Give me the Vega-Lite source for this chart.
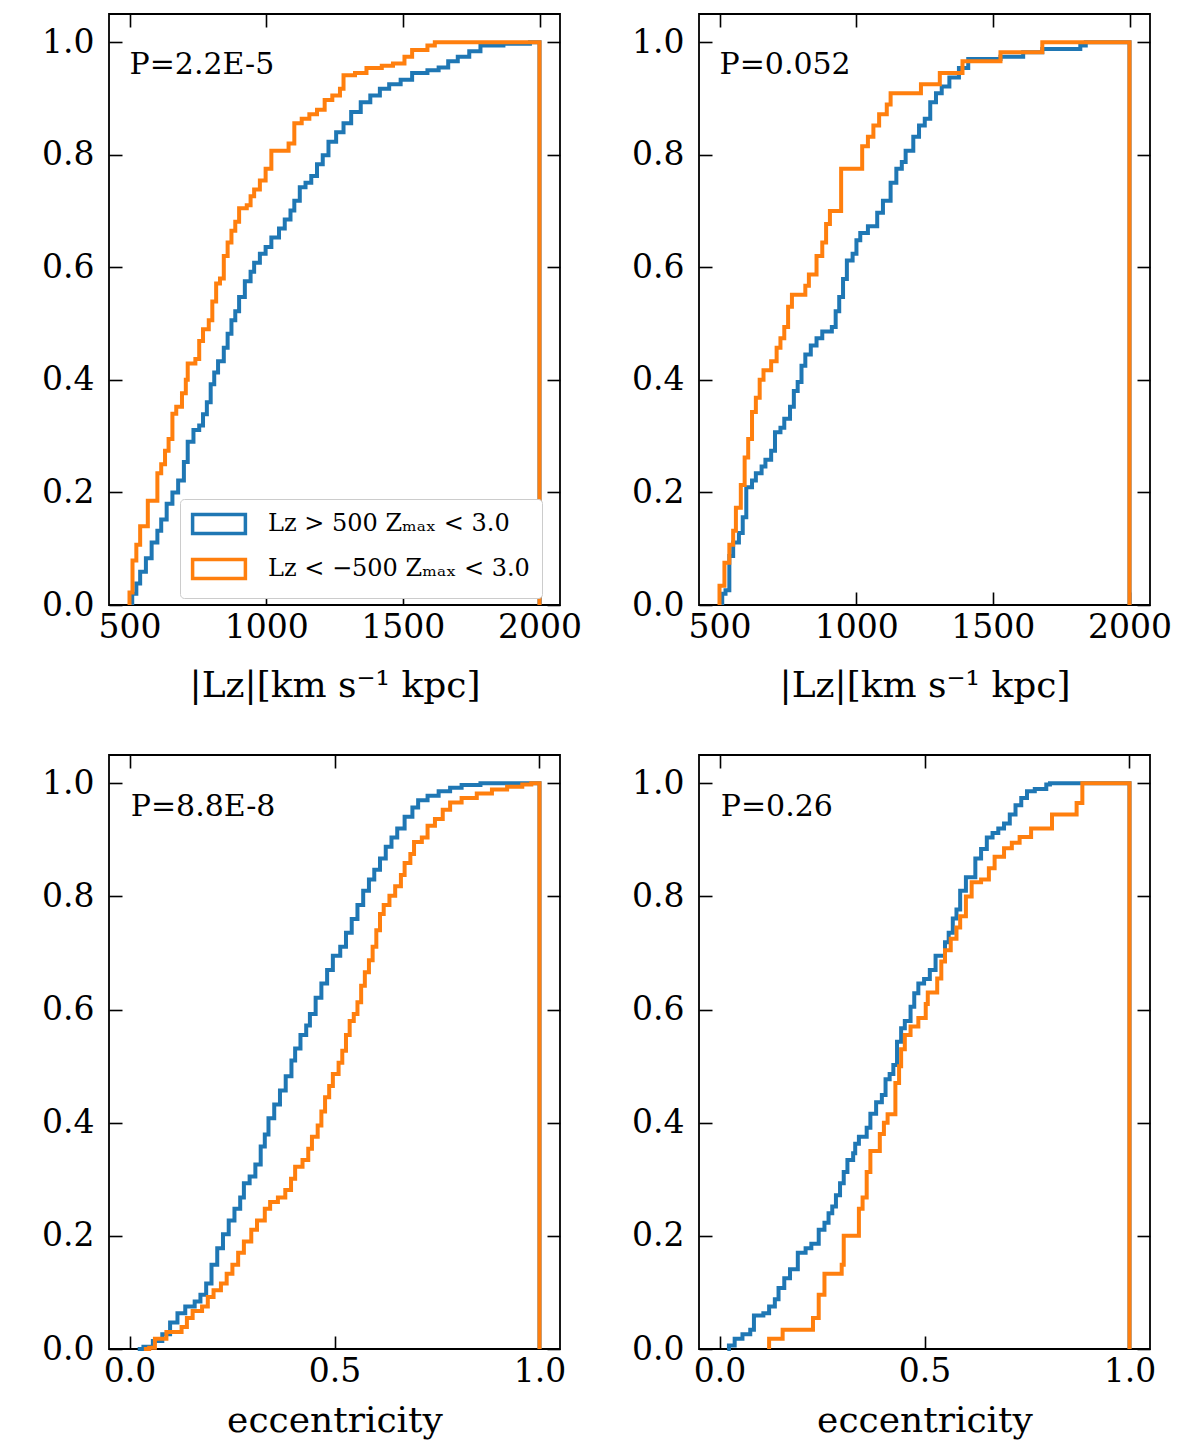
{
  "$schema": "https://vega.github.io/schema/vega-lite/v6.json",
  "padding": {"left": 40, "top": 12, "right": 20, "bottom": 10},
  "background": "white",
  "config": {
    "font": "DejaVu Serif",
    "view": {"stroke": "black", "strokeWidth": 1.8},
    "axis": {
      "domain": false, "grid": false, "ticks": true, "tickColor": "black", "tickWidth": 1.6, "tickSize": -13,
      "labelFont": "DejaVu Serif", "labelFontSize": 33, "labelColor": "black", "labelOverlap": false, "labelFlush": false,
      "titleFont": "DejaVu Serif", "titleFontSize": 36, "titleFontWeight": "normal", "titleColor": "black"
    },
    "axisX": {"labelPadding": 19.5},
    "axisY": {"labelPadding": 28}
  },
  "datasets": {
    "tl": [
      {"g": "pro", "x": 510, "y": 0}, {"g": "pro", "x": 510, "y": 0.02}, {"g": "pro", "x": 525, "y": 0.038}, {"g": "pro", "x": 539, "y": 0.059}, {"g": "pro", "x": 560, "y": 0.083}, {"g": "pro", "x": 581, "y": 0.111}, {"g": "pro", "x": 602, "y": 0.132}, {"g": "pro", "x": 616, "y": 0.152}, {"g": "pro", "x": 636, "y": 0.18}, {"g": "pro", "x": 657, "y": 0.2}, {"g": "pro", "x": 678, "y": 0.221}, {"g": "pro", "x": 699, "y": 0.254}, {"g": "pro", "x": 713, "y": 0.29}, {"g": "pro", "x": 734, "y": 0.311}, {"g": "pro", "x": 755, "y": 0.319}, {"g": "pro", "x": 769, "y": 0.339}, {"g": "pro", "x": 783, "y": 0.36}, {"g": "pro", "x": 797, "y": 0.392}, {"g": "pro", "x": 810, "y": 0.413}, {"g": "pro", "x": 824, "y": 0.433}, {"g": "pro", "x": 845, "y": 0.457}, {"g": "pro", "x": 859, "y": 0.482}, {"g": "pro", "x": 873, "y": 0.506}, {"g": "pro", "x": 887, "y": 0.522}, {"g": "pro", "x": 901, "y": 0.547}, {"g": "pro", "x": 922, "y": 0.575}, {"g": "pro", "x": 943, "y": 0.592}, {"g": "pro", "x": 956, "y": 0.608}, {"g": "pro", "x": 977, "y": 0.624}, {"g": "pro", "x": 998, "y": 0.636}, {"g": "pro", "x": 1019, "y": 0.653}, {"g": "pro", "x": 1047, "y": 0.669}, {"g": "pro", "x": 1068, "y": 0.685}, {"g": "pro", "x": 1089, "y": 0.701}, {"g": "pro", "x": 1103, "y": 0.718}, {"g": "pro", "x": 1123, "y": 0.742}, {"g": "pro", "x": 1144, "y": 0.75}, {"g": "pro", "x": 1165, "y": 0.762}, {"g": "pro", "x": 1186, "y": 0.783}, {"g": "pro", "x": 1207, "y": 0.799}, {"g": "pro", "x": 1228, "y": 0.823}, {"g": "pro", "x": 1256, "y": 0.84}, {"g": "pro", "x": 1283, "y": 0.856}, {"g": "pro", "x": 1311, "y": 0.876}, {"g": "pro", "x": 1346, "y": 0.893}, {"g": "pro", "x": 1381, "y": 0.905}, {"g": "pro", "x": 1416, "y": 0.917}, {"g": "pro", "x": 1450, "y": 0.925}, {"g": "pro", "x": 1492, "y": 0.933}, {"g": "pro", "x": 1534, "y": 0.945}, {"g": "pro", "x": 1590, "y": 0.95}, {"g": "pro", "x": 1631, "y": 0.955}, {"g": "pro", "x": 1666, "y": 0.966}, {"g": "pro", "x": 1701, "y": 0.974}, {"g": "pro", "x": 1743, "y": 0.984}, {"g": "pro", "x": 1784, "y": 0.994}, {"g": "pro", "x": 1868, "y": 0.997}, {"g": "pro", "x": 1965, "y": 1.0}, {"g": "pro", "x": 2000, "y": 1.0}, {"g": "pro", "x": 2000, "y": 0},
      {"g": "retro", "x": 500, "y": 0}, {"g": "retro", "x": 500, "y": 0.022}, {"g": "retro", "x": 511, "y": 0.079}, {"g": "retro", "x": 525, "y": 0.107}, {"g": "retro", "x": 539, "y": 0.14}, {"g": "retro", "x": 567, "y": 0.185}, {"g": "retro", "x": 602, "y": 0.234}, {"g": "retro", "x": 616, "y": 0.25}, {"g": "retro", "x": 630, "y": 0.274}, {"g": "retro", "x": 643, "y": 0.295}, {"g": "retro", "x": 657, "y": 0.34}, {"g": "retro", "x": 671, "y": 0.352}, {"g": "retro", "x": 692, "y": 0.376}, {"g": "retro", "x": 706, "y": 0.4}, {"g": "retro", "x": 713, "y": 0.429}, {"g": "retro", "x": 741, "y": 0.437}, {"g": "retro", "x": 755, "y": 0.469}, {"g": "retro", "x": 769, "y": 0.49}, {"g": "retro", "x": 790, "y": 0.506}, {"g": "retro", "x": 803, "y": 0.539}, {"g": "retro", "x": 817, "y": 0.571}, {"g": "retro", "x": 831, "y": 0.58}, {"g": "retro", "x": 845, "y": 0.62}, {"g": "retro", "x": 859, "y": 0.644}, {"g": "retro", "x": 873, "y": 0.665}, {"g": "retro", "x": 887, "y": 0.681}, {"g": "retro", "x": 901, "y": 0.705}, {"g": "retro", "x": 929, "y": 0.71}, {"g": "retro", "x": 943, "y": 0.726}, {"g": "retro", "x": 956, "y": 0.738}, {"g": "retro", "x": 977, "y": 0.754}, {"g": "retro", "x": 998, "y": 0.775}, {"g": "retro", "x": 1019, "y": 0.807}, {"g": "retro", "x": 1082, "y": 0.82}, {"g": "retro", "x": 1103, "y": 0.856}, {"g": "retro", "x": 1130, "y": 0.864}, {"g": "retro", "x": 1158, "y": 0.872}, {"g": "retro", "x": 1186, "y": 0.88}, {"g": "retro", "x": 1214, "y": 0.897}, {"g": "retro", "x": 1242, "y": 0.905}, {"g": "retro", "x": 1270, "y": 0.917}, {"g": "retro", "x": 1283, "y": 0.941}, {"g": "retro", "x": 1325, "y": 0.945}, {"g": "retro", "x": 1367, "y": 0.954}, {"g": "retro", "x": 1423, "y": 0.958}, {"g": "retro", "x": 1464, "y": 0.962}, {"g": "retro", "x": 1506, "y": 0.974}, {"g": "retro", "x": 1534, "y": 0.986}, {"g": "retro", "x": 1590, "y": 0.994}, {"g": "retro", "x": 1617, "y": 1.0}, {"g": "retro", "x": 2000, "y": 1.0}, {"g": "retro", "x": 2000, "y": 0}
    ],
    "tr": [
      {"g": "pro", "x": 510, "y": 0}, {"g": "pro", "x": 510, "y": 0.02}, {"g": "pro", "x": 522, "y": 0.026}, {"g": "pro", "x": 536, "y": 0.087}, {"g": "pro", "x": 550, "y": 0.111}, {"g": "pro", "x": 571, "y": 0.128}, {"g": "pro", "x": 585, "y": 0.156}, {"g": "pro", "x": 598, "y": 0.209}, {"g": "pro", "x": 619, "y": 0.221}, {"g": "pro", "x": 633, "y": 0.234}, {"g": "pro", "x": 654, "y": 0.246}, {"g": "pro", "x": 668, "y": 0.258}, {"g": "pro", "x": 689, "y": 0.274}, {"g": "pro", "x": 703, "y": 0.307}, {"g": "pro", "x": 723, "y": 0.315}, {"g": "pro", "x": 737, "y": 0.331}, {"g": "pro", "x": 758, "y": 0.352}, {"g": "pro", "x": 772, "y": 0.38}, {"g": "pro", "x": 786, "y": 0.396}, {"g": "pro", "x": 800, "y": 0.425}, {"g": "pro", "x": 814, "y": 0.445}, {"g": "pro", "x": 834, "y": 0.461}, {"g": "pro", "x": 855, "y": 0.474}, {"g": "pro", "x": 876, "y": 0.486}, {"g": "pro", "x": 911, "y": 0.494}, {"g": "pro", "x": 925, "y": 0.522}, {"g": "pro", "x": 938, "y": 0.547}, {"g": "pro", "x": 952, "y": 0.579}, {"g": "pro", "x": 966, "y": 0.612}, {"g": "pro", "x": 987, "y": 0.624}, {"g": "pro", "x": 1001, "y": 0.648}, {"g": "pro", "x": 1015, "y": 0.661}, {"g": "pro", "x": 1043, "y": 0.673}, {"g": "pro", "x": 1077, "y": 0.697}, {"g": "pro", "x": 1098, "y": 0.718}, {"g": "pro", "x": 1126, "y": 0.75}, {"g": "pro", "x": 1147, "y": 0.775}, {"g": "pro", "x": 1167, "y": 0.787}, {"g": "pro", "x": 1181, "y": 0.807}, {"g": "pro", "x": 1209, "y": 0.832}, {"g": "pro", "x": 1230, "y": 0.852}, {"g": "pro", "x": 1251, "y": 0.864}, {"g": "pro", "x": 1271, "y": 0.893}, {"g": "pro", "x": 1292, "y": 0.909}, {"g": "pro", "x": 1313, "y": 0.921}, {"g": "pro", "x": 1341, "y": 0.937}, {"g": "pro", "x": 1376, "y": 0.954}, {"g": "pro", "x": 1410, "y": 0.97}, {"g": "pro", "x": 1528, "y": 0.974}, {"g": "pro", "x": 1611, "y": 0.982}, {"g": "pro", "x": 1681, "y": 0.988}, {"g": "pro", "x": 1820, "y": 0.994}, {"g": "pro", "x": 1840, "y": 1.0}, {"g": "pro", "x": 2000, "y": 1.0}, {"g": "pro", "x": 2000, "y": 0},
      {"g": "retro", "x": 500, "y": 0}, {"g": "retro", "x": 500, "y": 0.034}, {"g": "retro", "x": 518, "y": 0.075}, {"g": "retro", "x": 536, "y": 0.107}, {"g": "retro", "x": 550, "y": 0.132}, {"g": "retro", "x": 560, "y": 0.173}, {"g": "retro", "x": 578, "y": 0.213}, {"g": "retro", "x": 592, "y": 0.262}, {"g": "retro", "x": 605, "y": 0.295}, {"g": "retro", "x": 619, "y": 0.343}, {"g": "retro", "x": 633, "y": 0.368}, {"g": "retro", "x": 647, "y": 0.4}, {"g": "retro", "x": 661, "y": 0.417}, {"g": "retro", "x": 689, "y": 0.433}, {"g": "retro", "x": 709, "y": 0.457}, {"g": "retro", "x": 723, "y": 0.474}, {"g": "retro", "x": 737, "y": 0.494}, {"g": "retro", "x": 751, "y": 0.53}, {"g": "retro", "x": 765, "y": 0.551}, {"g": "retro", "x": 814, "y": 0.567}, {"g": "retro", "x": 827, "y": 0.587}, {"g": "retro", "x": 855, "y": 0.62}, {"g": "retro", "x": 876, "y": 0.644}, {"g": "retro", "x": 890, "y": 0.677}, {"g": "retro", "x": 904, "y": 0.7}, {"g": "retro", "x": 945, "y": 0.775}, {"g": "retro", "x": 1022, "y": 0.815}, {"g": "retro", "x": 1043, "y": 0.832}, {"g": "retro", "x": 1063, "y": 0.852}, {"g": "retro", "x": 1084, "y": 0.872}, {"g": "retro", "x": 1112, "y": 0.889}, {"g": "retro", "x": 1126, "y": 0.909}, {"g": "retro", "x": 1237, "y": 0.925}, {"g": "retro", "x": 1306, "y": 0.945}, {"g": "retro", "x": 1389, "y": 0.966}, {"g": "retro", "x": 1528, "y": 0.982}, {"g": "retro", "x": 1681, "y": 1.0}, {"g": "retro", "x": 2000, "y": 1.0}, {"g": "retro", "x": 2000, "y": 0}
    ],
    "bl": [
      {"g": "pro", "x": 0.02, "y": 0}, {"g": "pro", "x": 0.034, "y": 0.004}, {"g": "pro", "x": 0.057, "y": 0.014}, {"g": "pro", "x": 0.08, "y": 0.026}, {"g": "pro", "x": 0.099, "y": 0.047}, {"g": "pro", "x": 0.117, "y": 0.063}, {"g": "pro", "x": 0.136, "y": 0.075}, {"g": "pro", "x": 0.159, "y": 0.084}, {"g": "pro", "x": 0.173, "y": 0.096}, {"g": "pro", "x": 0.187, "y": 0.116}, {"g": "pro", "x": 0.2, "y": 0.149}, {"g": "pro", "x": 0.214, "y": 0.178}, {"g": "pro", "x": 0.228, "y": 0.203}, {"g": "pro", "x": 0.242, "y": 0.227}, {"g": "pro", "x": 0.256, "y": 0.248}, {"g": "pro", "x": 0.27, "y": 0.268}, {"g": "pro", "x": 0.279, "y": 0.293}, {"g": "pro", "x": 0.293, "y": 0.305}, {"g": "pro", "x": 0.307, "y": 0.326}, {"g": "pro", "x": 0.32, "y": 0.358}, {"g": "pro", "x": 0.33, "y": 0.379}, {"g": "pro", "x": 0.339, "y": 0.408}, {"g": "pro", "x": 0.353, "y": 0.432}, {"g": "pro", "x": 0.367, "y": 0.457}, {"g": "pro", "x": 0.381, "y": 0.482}, {"g": "pro", "x": 0.395, "y": 0.51}, {"g": "pro", "x": 0.404, "y": 0.531}, {"g": "pro", "x": 0.417, "y": 0.555}, {"g": "pro", "x": 0.431, "y": 0.572}, {"g": "pro", "x": 0.44, "y": 0.592}, {"g": "pro", "x": 0.454, "y": 0.621}, {"g": "pro", "x": 0.468, "y": 0.646}, {"g": "pro", "x": 0.482, "y": 0.67}, {"g": "pro", "x": 0.496, "y": 0.695}, {"g": "pro", "x": 0.514, "y": 0.711}, {"g": "pro", "x": 0.528, "y": 0.736}, {"g": "pro", "x": 0.542, "y": 0.76}, {"g": "pro", "x": 0.556, "y": 0.785}, {"g": "pro", "x": 0.57, "y": 0.81}, {"g": "pro", "x": 0.584, "y": 0.83}, {"g": "pro", "x": 0.597, "y": 0.847}, {"g": "pro", "x": 0.611, "y": 0.867}, {"g": "pro", "x": 0.625, "y": 0.888}, {"g": "pro", "x": 0.639, "y": 0.904}, {"g": "pro", "x": 0.653, "y": 0.92}, {"g": "pro", "x": 0.671, "y": 0.941}, {"g": "pro", "x": 0.69, "y": 0.957}, {"g": "pro", "x": 0.704, "y": 0.97}, {"g": "pro", "x": 0.727, "y": 0.978}, {"g": "pro", "x": 0.754, "y": 0.986}, {"g": "pro", "x": 0.782, "y": 0.992}, {"g": "pro", "x": 0.81, "y": 0.997}, {"g": "pro", "x": 0.856, "y": 1.0}, {"g": "pro", "x": 1.0, "y": 1.0}, {"g": "pro", "x": 1.0, "y": 0},
      {"g": "retro", "x": 0.035, "y": 0}, {"g": "retro", "x": 0.048, "y": 0.002}, {"g": "retro", "x": 0.062, "y": 0.018}, {"g": "retro", "x": 0.09, "y": 0.03}, {"g": "retro", "x": 0.127, "y": 0.039}, {"g": "retro", "x": 0.14, "y": 0.055}, {"g": "retro", "x": 0.154, "y": 0.067}, {"g": "retro", "x": 0.177, "y": 0.075}, {"g": "retro", "x": 0.191, "y": 0.092}, {"g": "retro", "x": 0.205, "y": 0.104}, {"g": "retro", "x": 0.223, "y": 0.116}, {"g": "retro", "x": 0.237, "y": 0.133}, {"g": "retro", "x": 0.251, "y": 0.149}, {"g": "retro", "x": 0.265, "y": 0.17}, {"g": "retro", "x": 0.279, "y": 0.19}, {"g": "retro", "x": 0.297, "y": 0.211}, {"g": "retro", "x": 0.311, "y": 0.227}, {"g": "retro", "x": 0.33, "y": 0.248}, {"g": "retro", "x": 0.343, "y": 0.26}, {"g": "retro", "x": 0.362, "y": 0.268}, {"g": "retro", "x": 0.38, "y": 0.281}, {"g": "retro", "x": 0.394, "y": 0.301}, {"g": "retro", "x": 0.404, "y": 0.322}, {"g": "retro", "x": 0.422, "y": 0.334}, {"g": "retro", "x": 0.436, "y": 0.354}, {"g": "retro", "x": 0.445, "y": 0.375}, {"g": "retro", "x": 0.459, "y": 0.395}, {"g": "retro", "x": 0.468, "y": 0.42}, {"g": "retro", "x": 0.477, "y": 0.445}, {"g": "retro", "x": 0.487, "y": 0.465}, {"g": "retro", "x": 0.496, "y": 0.486}, {"g": "retro", "x": 0.51, "y": 0.506}, {"g": "retro", "x": 0.519, "y": 0.527}, {"g": "retro", "x": 0.528, "y": 0.555}, {"g": "retro", "x": 0.537, "y": 0.58}, {"g": "retro", "x": 0.547, "y": 0.592}, {"g": "retro", "x": 0.556, "y": 0.613}, {"g": "retro", "x": 0.565, "y": 0.642}, {"g": "retro", "x": 0.574, "y": 0.666}, {"g": "retro", "x": 0.584, "y": 0.687}, {"g": "retro", "x": 0.593, "y": 0.711}, {"g": "retro", "x": 0.602, "y": 0.74}, {"g": "retro", "x": 0.611, "y": 0.769}, {"g": "retro", "x": 0.62, "y": 0.785}, {"g": "retro", "x": 0.634, "y": 0.801}, {"g": "retro", "x": 0.648, "y": 0.818}, {"g": "retro", "x": 0.662, "y": 0.838}, {"g": "retro", "x": 0.671, "y": 0.859}, {"g": "retro", "x": 0.685, "y": 0.875}, {"g": "retro", "x": 0.694, "y": 0.896}, {"g": "retro", "x": 0.713, "y": 0.904}, {"g": "retro", "x": 0.727, "y": 0.925}, {"g": "retro", "x": 0.745, "y": 0.937}, {"g": "retro", "x": 0.764, "y": 0.953}, {"g": "retro", "x": 0.782, "y": 0.966}, {"g": "retro", "x": 0.81, "y": 0.974}, {"g": "retro", "x": 0.847, "y": 0.982}, {"g": "retro", "x": 0.884, "y": 0.989}, {"g": "retro", "x": 0.921, "y": 0.994}, {"g": "retro", "x": 0.958, "y": 0.998}, {"g": "retro", "x": 0.98, "y": 1.0}, {"g": "retro", "x": 1.0, "y": 1.0}, {"g": "retro", "x": 1.0, "y": 0}
    ],
    "br": [
      {"g": "pro", "x": 0.019, "y": 0}, {"g": "pro", "x": 0.023, "y": 0.006}, {"g": "pro", "x": 0.037, "y": 0.018}, {"g": "pro", "x": 0.056, "y": 0.026}, {"g": "pro", "x": 0.075, "y": 0.034}, {"g": "pro", "x": 0.084, "y": 0.059}, {"g": "pro", "x": 0.107, "y": 0.063}, {"g": "pro", "x": 0.121, "y": 0.075}, {"g": "pro", "x": 0.135, "y": 0.088}, {"g": "pro", "x": 0.144, "y": 0.108}, {"g": "pro", "x": 0.158, "y": 0.125}, {"g": "pro", "x": 0.172, "y": 0.141}, {"g": "pro", "x": 0.191, "y": 0.17}, {"g": "pro", "x": 0.21, "y": 0.178}, {"g": "pro", "x": 0.224, "y": 0.186}, {"g": "pro", "x": 0.242, "y": 0.211}, {"g": "pro", "x": 0.256, "y": 0.223}, {"g": "pro", "x": 0.266, "y": 0.24}, {"g": "pro", "x": 0.275, "y": 0.252}, {"g": "pro", "x": 0.284, "y": 0.272}, {"g": "pro", "x": 0.294, "y": 0.293}, {"g": "pro", "x": 0.303, "y": 0.313}, {"g": "pro", "x": 0.312, "y": 0.334}, {"g": "pro", "x": 0.326, "y": 0.346}, {"g": "pro", "x": 0.331, "y": 0.363}, {"g": "pro", "x": 0.34, "y": 0.375}, {"g": "pro", "x": 0.359, "y": 0.391}, {"g": "pro", "x": 0.368, "y": 0.416}, {"g": "pro", "x": 0.382, "y": 0.436}, {"g": "pro", "x": 0.396, "y": 0.449}, {"g": "pro", "x": 0.405, "y": 0.477}, {"g": "pro", "x": 0.415, "y": 0.486}, {"g": "pro", "x": 0.424, "y": 0.502}, {"g": "pro", "x": 0.433, "y": 0.543}, {"g": "pro", "x": 0.443, "y": 0.567}, {"g": "pro", "x": 0.452, "y": 0.58}, {"g": "pro", "x": 0.466, "y": 0.605}, {"g": "pro", "x": 0.475, "y": 0.629}, {"g": "pro", "x": 0.485, "y": 0.646}, {"g": "pro", "x": 0.499, "y": 0.654}, {"g": "pro", "x": 0.513, "y": 0.67}, {"g": "pro", "x": 0.527, "y": 0.695}, {"g": "pro", "x": 0.55, "y": 0.719}, {"g": "pro", "x": 0.559, "y": 0.736}, {"g": "pro", "x": 0.569, "y": 0.761}, {"g": "pro", "x": 0.578, "y": 0.777}, {"g": "pro", "x": 0.587, "y": 0.81}, {"g": "pro", "x": 0.601, "y": 0.834}, {"g": "pro", "x": 0.624, "y": 0.867}, {"g": "pro", "x": 0.638, "y": 0.884}, {"g": "pro", "x": 0.652, "y": 0.904}, {"g": "pro", "x": 0.666, "y": 0.912}, {"g": "pro", "x": 0.68, "y": 0.92}, {"g": "pro", "x": 0.694, "y": 0.929}, {"g": "pro", "x": 0.708, "y": 0.945}, {"g": "pro", "x": 0.722, "y": 0.961}, {"g": "pro", "x": 0.736, "y": 0.974}, {"g": "pro", "x": 0.75, "y": 0.986}, {"g": "pro", "x": 0.769, "y": 0.99}, {"g": "pro", "x": 0.797, "y": 0.998}, {"g": "pro", "x": 0.806, "y": 1.0}, {"g": "pro", "x": 1.0, "y": 1.0}, {"g": "pro", "x": 1.0, "y": 0},
      {"g": "retro", "x": 0.121, "y": 0}, {"g": "retro", "x": 0.121, "y": 0.018}, {"g": "retro", "x": 0.154, "y": 0.034}, {"g": "retro", "x": 0.228, "y": 0.055}, {"g": "retro", "x": 0.242, "y": 0.096}, {"g": "retro", "x": 0.256, "y": 0.133}, {"g": "retro", "x": 0.298, "y": 0.149}, {"g": "retro", "x": 0.303, "y": 0.2}, {"g": "retro", "x": 0.34, "y": 0.248}, {"g": "retro", "x": 0.349, "y": 0.268}, {"g": "retro", "x": 0.359, "y": 0.313}, {"g": "retro", "x": 0.368, "y": 0.35}, {"g": "retro", "x": 0.391, "y": 0.38}, {"g": "retro", "x": 0.401, "y": 0.4}, {"g": "retro", "x": 0.41, "y": 0.415}, {"g": "retro", "x": 0.429, "y": 0.47}, {"g": "retro", "x": 0.438, "y": 0.5}, {"g": "retro", "x": 0.443, "y": 0.53}, {"g": "retro", "x": 0.452, "y": 0.555}, {"g": "retro", "x": 0.466, "y": 0.57}, {"g": "retro", "x": 0.485, "y": 0.585}, {"g": "retro", "x": 0.503, "y": 0.61}, {"g": "retro", "x": 0.508, "y": 0.63}, {"g": "retro", "x": 0.531, "y": 0.655}, {"g": "retro", "x": 0.541, "y": 0.685}, {"g": "retro", "x": 0.55, "y": 0.705}, {"g": "retro", "x": 0.564, "y": 0.725}, {"g": "retro", "x": 0.578, "y": 0.745}, {"g": "retro", "x": 0.587, "y": 0.765}, {"g": "retro", "x": 0.601, "y": 0.8}, {"g": "retro", "x": 0.615, "y": 0.825}, {"g": "retro", "x": 0.638, "y": 0.83}, {"g": "retro", "x": 0.657, "y": 0.85}, {"g": "retro", "x": 0.671, "y": 0.87}, {"g": "retro", "x": 0.694, "y": 0.885}, {"g": "retro", "x": 0.713, "y": 0.895}, {"g": "retro", "x": 0.732, "y": 0.905}, {"g": "retro", "x": 0.76, "y": 0.92}, {"g": "retro", "x": 0.811, "y": 0.945}, {"g": "retro", "x": 0.871, "y": 0.965}, {"g": "retro", "x": 0.885, "y": 1.0}, {"g": "retro", "x": 1.0, "y": 1.0}, {"g": "retro", "x": 1.0, "y": 0}
    ]
  },
  "columns": 2,
  "spacing": {"row": 150, "column": 139},
  "bounds": "flush",
  "resolve": {"scale": {"color": "independent"}},
  "concat": [
    {
      "width": 451, "height": 591,
      "layer": [
        {
          "data": {"name": "tl"},
          "mark": {"type": "line", "interpolate": "step-after", "strokeWidth": 4},
          "encoding": {
            "x": {"field": "x", "type": "quantitative", "scale": {"domain": [425, 2075], "nice": false, "zero": false},
                  "axis": {"orient": "bottom", "values": [500, 1000, 1500, 2000], "format": "d", "title": "|Lᴢ|[km s⁻¹ kpc]", "titleY": 91, "titleBaseline": "alphabetic"}},
            "y": {"field": "y", "type": "quantitative", "scale": {"domain": [0, 1.05], "nice": false},
                  "axis": {"orient": "left", "values": [0, 0.2, 0.4, 0.6, 0.8, 1.0], "format": ".1f", "title": null}},
            "color": {"field": "g", "type": "nominal", "scale": {"domain": ["pro", "retro"], "range": ["#1f77b4", "#ff7f0e"]},
                      "legend": {"orient": "none", "legendX": 71, "legendY": 485, "title": null,
                                 "labelExpr": "datum.label == 'pro' ? 'Lᴢ > 500 Zₘₐₓ < 3.0' : 'Lᴢ < −500 Zₘₐₓ < 3.0'",
                                 "symbolType": "M-2.4,-0.86H2.4V0.86H-2.4Z", "symbolSize": 484, "symbolStrokeWidth": 3.5, "symbolFillColor": "white",
                                 "symbolOffset": 14, "labelOffset": 36, "labelFont": "DejaVu Serif", "labelFontSize": 24, "labelColor": "black", "labelLimit": 500,
                                 "padding": 12, "rowPadding": 11, "strokeColor": "#cccccc", "fillColor": "white", "cornerRadius": 4}}
          }
        },
        {
          "data": {"values": [{"label": "P=2.2E-5"}]},
          "mark": {"type": "text", "align": "left", "baseline": "alphabetic", "fontSize": 30, "font": "DejaVu Serif", "color": "black"},
          "encoding": {
            "text": {"field": "label"},
            "x": {"datum": 500, "type": "quantitative", "scale": {"domain": [425, 2075], "nice": false, "zero": false},
                  "axis": {"orient": "top", "values": [500, 1000, 1500, 2000], "labels": false, "title": null}},
            "y": {"datum": 0.944, "type": "quantitative", "scale": {"domain": [0, 1.05], "nice": false},
                  "axis": {"orient": "right", "values": [0, 0.2, 0.4, 0.6, 0.8, 1.0], "labels": false, "title": null}}
          }
        }
      ],
      "resolve": {"axis": {"x": "independent", "y": "independent"}}
    },
    {
      "width": 451, "height": 591,
      "layer": [
        {
          "data": {"name": "tr"},
          "mark": {"type": "line", "interpolate": "step-after", "strokeWidth": 4},
          "encoding": {
            "x": {"field": "x", "type": "quantitative", "scale": {"domain": [425, 2075], "nice": false, "zero": false},
                  "axis": {"orient": "bottom", "values": [500, 1000, 1500, 2000], "format": "d", "title": "|Lᴢ|[km s⁻¹ kpc]", "titleY": 91, "titleBaseline": "alphabetic"}},
            "y": {"field": "y", "type": "quantitative", "scale": {"domain": [0, 1.05], "nice": false},
                  "axis": {"orient": "left", "values": [0, 0.2, 0.4, 0.6, 0.8, 1.0], "format": ".1f", "title": null}},
            "color": {"field": "g", "type": "nominal", "scale": {"domain": ["pro", "retro"], "range": ["#1f77b4", "#ff7f0e"]}, "legend": null}
          }
        },
        {
          "data": {"values": [{"label": "P=0.052"}]},
          "mark": {"type": "text", "align": "left", "baseline": "alphabetic", "fontSize": 30, "font": "DejaVu Serif", "color": "black"},
          "encoding": {
            "text": {"field": "label"},
            "x": {"datum": 500, "type": "quantitative", "scale": {"domain": [425, 2075], "nice": false, "zero": false},
                  "axis": {"orient": "top", "values": [500, 1000, 1500, 2000], "labels": false, "title": null}},
            "y": {"datum": 0.944, "type": "quantitative", "scale": {"domain": [0, 1.05], "nice": false},
                  "axis": {"orient": "right", "values": [0, 0.2, 0.4, 0.6, 0.8, 1.0], "labels": false, "title": null}}
          }
        }
      ],
      "resolve": {"axis": {"x": "independent", "y": "independent"}}
    },
    {
      "width": 451, "height": 594,
      "layer": [
        {
          "data": {"name": "bl"},
          "mark": {"type": "line", "interpolate": "step-after", "strokeWidth": 4},
          "encoding": {
            "x": {"field": "x", "type": "quantitative", "scale": {"domain": [-0.05, 1.05], "nice": false, "zero": false},
                  "axis": {"orient": "bottom", "values": [0, 0.5, 1.0], "format": ".1f", "title": "eccentricity", "titleY": 82, "titleBaseline": "alphabetic"}},
            "y": {"field": "y", "type": "quantitative", "scale": {"domain": [0, 1.05], "nice": false},
                  "axis": {"orient": "left", "values": [0, 0.2, 0.4, 0.6, 0.8, 1.0], "format": ".1f", "title": null}},
            "color": {"field": "g", "type": "nominal", "scale": {"domain": ["pro", "retro"], "range": ["#1f77b4", "#ff7f0e"]}, "legend": null}
          }
        },
        {
          "data": {"values": [{"label": "P=8.8E-8"}]},
          "mark": {"type": "text", "align": "left", "baseline": "alphabetic", "fontSize": 30, "font": "DejaVu Serif", "color": "black"},
          "encoding": {
            "text": {"field": "label"},
            "x": {"datum": 0.003, "type": "quantitative", "scale": {"domain": [-0.05, 1.05], "nice": false, "zero": false},
                  "axis": {"orient": "top", "values": [0, 0.5, 1.0], "labels": false, "title": null}},
            "y": {"datum": 0.942, "type": "quantitative", "scale": {"domain": [0, 1.05], "nice": false},
                  "axis": {"orient": "right", "values": [0, 0.2, 0.4, 0.6, 0.8, 1.0], "labels": false, "title": null}}
          }
        }
      ],
      "resolve": {"axis": {"x": "independent", "y": "independent"}}
    },
    {
      "width": 451, "height": 594,
      "layer": [
        {
          "data": {"name": "br"},
          "mark": {"type": "line", "interpolate": "step-after", "strokeWidth": 4},
          "encoding": {
            "x": {"field": "x", "type": "quantitative", "scale": {"domain": [-0.05, 1.05], "nice": false, "zero": false},
                  "axis": {"orient": "bottom", "values": [0, 0.5, 1.0], "format": ".1f", "title": "eccentricity", "titleY": 82, "titleBaseline": "alphabetic"}},
            "y": {"field": "y", "type": "quantitative", "scale": {"domain": [0, 1.05], "nice": false},
                  "axis": {"orient": "left", "values": [0, 0.2, 0.4, 0.6, 0.8, 1.0], "format": ".1f", "title": null}},
            "color": {"field": "g", "type": "nominal", "scale": {"domain": ["pro", "retro"], "range": ["#1f77b4", "#ff7f0e"]}, "legend": null}
          }
        },
        {
          "data": {"values": [{"label": "P=0.26"}]},
          "mark": {"type": "text", "align": "left", "baseline": "alphabetic", "fontSize": 30, "font": "DejaVu Serif", "color": "black"},
          "encoding": {
            "text": {"field": "label"},
            "x": {"datum": 0.003, "type": "quantitative", "scale": {"domain": [-0.05, 1.05], "nice": false, "zero": false},
                  "axis": {"orient": "top", "values": [0, 0.5, 1.0], "labels": false, "title": null}},
            "y": {"datum": 0.942, "type": "quantitative", "scale": {"domain": [0, 1.05], "nice": false},
                  "axis": {"orient": "right", "values": [0, 0.2, 0.4, 0.6, 0.8, 1.0], "labels": false, "title": null}}
          }
        }
      ],
      "resolve": {"axis": {"x": "independent", "y": "independent"}}
    }
  ]
}
